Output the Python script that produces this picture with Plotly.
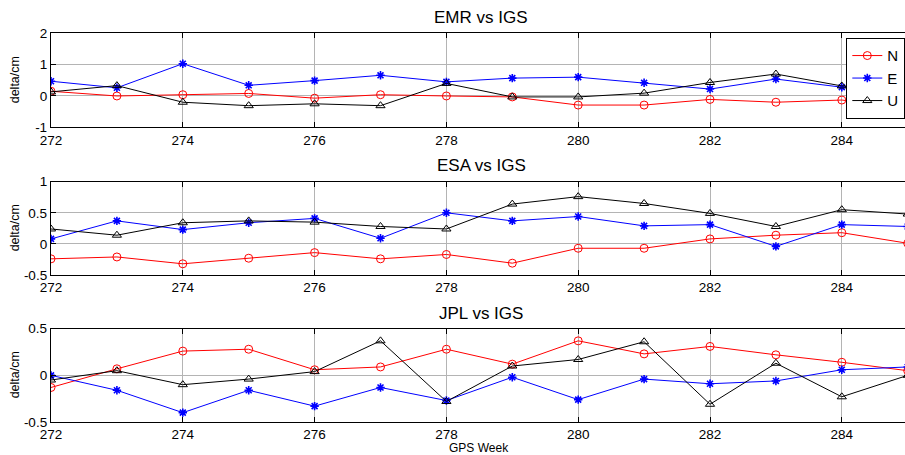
import plotly.graph_objects as go

weeks = [272, 273, 274, 275, 276, 277, 278, 279, 280, 281, 282, 283, 284, 285]

emr_n = [0.15, 0.00, 0.04, 0.08, -0.07, 0.04, 0.00, -0.03, -0.29, -0.29, -0.11, -0.20, -0.13, -0.40]
emr_e = [0.47, 0.26, 1.03, 0.34, 0.49, 0.66, 0.45, 0.57, 0.60, 0.42, 0.22, 0.54, 0.28, 0.32]
emr_u = [0.13, 0.33, -0.20, -0.31, -0.25, -0.31, 0.40, -0.03, -0.03, 0.09, 0.43, 0.70, 0.32, 0.30]

esa_n = [-0.24, -0.21, -0.32, -0.23, -0.14, -0.24, -0.17, -0.31, -0.07, -0.07, 0.08, 0.14, 0.18, 0.01]
esa_e = [0.08, 0.37, 0.23, 0.34, 0.41, 0.09, 0.50, 0.37, 0.44, 0.29, 0.31, -0.04, 0.31, 0.28]
esa_u = [0.24, 0.14, 0.34, 0.37, 0.35, 0.28, 0.24, 0.64, 0.76, 0.65, 0.49, 0.28, 0.55, 0.48]

jpl_n = [-0.13, 0.07, 0.26, 0.28, 0.06, 0.09, 0.28, 0.12, 0.37, 0.23, 0.31, 0.22, 0.14, 0.05]
jpl_e = [0.00, -0.16, -0.40, -0.16, -0.33, -0.13, -0.27, -0.02, -0.26, -0.04, -0.09, -0.06, 0.06, 0.09]
jpl_u = [-0.05, 0.05, -0.10, -0.04, 0.04, 0.37, -0.28, 0.10, 0.17, 0.36, -0.31, 0.13, -0.23, 0.00]

titles = ["EMR vs IGS", "ESA vs IGS", "JPL vs IGS"]
panels = [(emr_n, emr_e, emr_u), (esa_n, esa_e, esa_u), (jpl_n, jpl_e, jpl_u)]
y_ranges = [[-1, 2], [-0.5, 1], [-0.5, 0.5]]
y_ticks = [[-1, 0, 1, 2], [-0.5, 0, 0.5, 1], [-0.5, 0, 0.5]]
y_ticktext = [["-1", "0", "1", "2"], ["-0.5", "0", "0.5", "1"], ["-0.5", "0", "0.5"]]
x_ticks = [272, 274, 276, 278, 280, 282, 284]
series_names = ["N", "E", "U"]

FONT = "Liberation Sans, Arial, sans-serif"
W, H = 905, 455
ML, MR, MT, MB = 51, 0, 33, 33
plot_w = W - ML - MR
plot_h = H - MT - MB

# panel pixel extents (top, bottom)
panel_px = [(33.3, 127.3), (181.7, 275.0), (328.7, 422.0)]

def py(p):
    return (H - MB - p) / plot_h

styles = [
    dict(color="#ff0000", symbol="circle-open", size=8, lw=1),
    dict(color="#0000ff", symbol="asterisk-open", size=7, lw=1.6),
    dict(color="#000000", symbol="triangle-up-open", size=8, lw=1),
]

fig = go.Figure()
x_end = 272 + plot_w / 65.9

for i, (vals, rng) in enumerate(zip(panels, y_ranges)):
    xa = "x" if i == 0 else f"x{i+1}"
    ya = "y" if i == 0 else f"y{i+1}"
    for j, v in enumerate(vals):
        s = styles[j]
        fig.add_trace(go.Scatter(
            x=weeks, y=v, mode="lines+markers", name=series_names[j],
            xaxis=xa, yaxis=ya, showlegend=(i == 0),
            line=dict(color=s["color"], width=1),
            marker=dict(symbol=s["symbol"], size=s["size"], color=s["color"],
                        line=dict(color=s["color"], width=s["lw"])),
            cliponaxis=True,
        ))
    top, bot = panel_px[i]
    dom = [py(bot), py(top)]
    xkey = "xaxis" if i == 0 else f"xaxis{i+1}"
    ykey = "yaxis" if i == 0 else f"yaxis{i+1}"
    fig.update_layout(**{
        xkey: dict(domain=[0, 1], anchor=ya, range=[272, x_end],
                   tickvals=x_ticks, ticktext=[str(t) for t in x_ticks],
                   showline=True, linecolor="black", linewidth=1.3, mirror="ticks",
                   ticks="inside", ticklen=5, tickcolor="black",
                   showgrid=True, gridcolor="#b4b4b4", gridwidth=1,
                   zeroline=False,
                   tickfont=dict(family=FONT, size=13.5, color="black")),
        ykey: dict(domain=dom, anchor=xa, range=rng,
                   tickvals=y_ticks[i], ticktext=y_ticktext[i],
                   showline=True, linecolor="black", linewidth=1.3, mirror=False,
                   ticks="inside", ticklen=5, tickcolor="black",
                   showgrid=True, gridcolor="#b4b4b4", gridwidth=1,
                   zeroline=False,
                   tickfont=dict(family=FONT, size=13.5, color="black")),
    })
    title_y = [17, 165, 313][i]
    fig.add_annotation(text=titles[i], xref="paper", yref="paper",
                       x=(481 - ML) / plot_w, y=py(title_y), showarrow=False,
                       xanchor="center", yanchor="middle",
                       font=dict(family=FONT, size=17, color="black"))
    fig.add_annotation(text="delta/cm", xref="paper", yref="paper",
                       x=(15 - ML) / plot_w, y=py((top + bot) / 2), showarrow=False,
                       textangle=-90, xanchor="center", yanchor="middle",
                       font=dict(family=FONT, size=12.5, color="black"))

fig.add_annotation(text="GPS Week", xref="paper", yref="paper",
                   x=(479 - ML) / plot_w, y=py(448), showarrow=False,
                   xanchor="center", yanchor="middle",
                   font=dict(family=FONT, size=12, color="black"))

fig.update_layout(
    width=W, height=H,
    margin=dict(l=ML, r=MR, t=MT, b=MB),
    paper_bgcolor="white", plot_bgcolor="white",
    legend=dict(x=1, xanchor="right", y=py(38), yanchor="top",
                bordercolor="black", borderwidth=1.3, bgcolor="white",
                font=dict(family=FONT, size=15, color="black"),
                itemwidth=30, tracegroupgap=0),
    showlegend=True,
)

fig.write_html("out.html")
